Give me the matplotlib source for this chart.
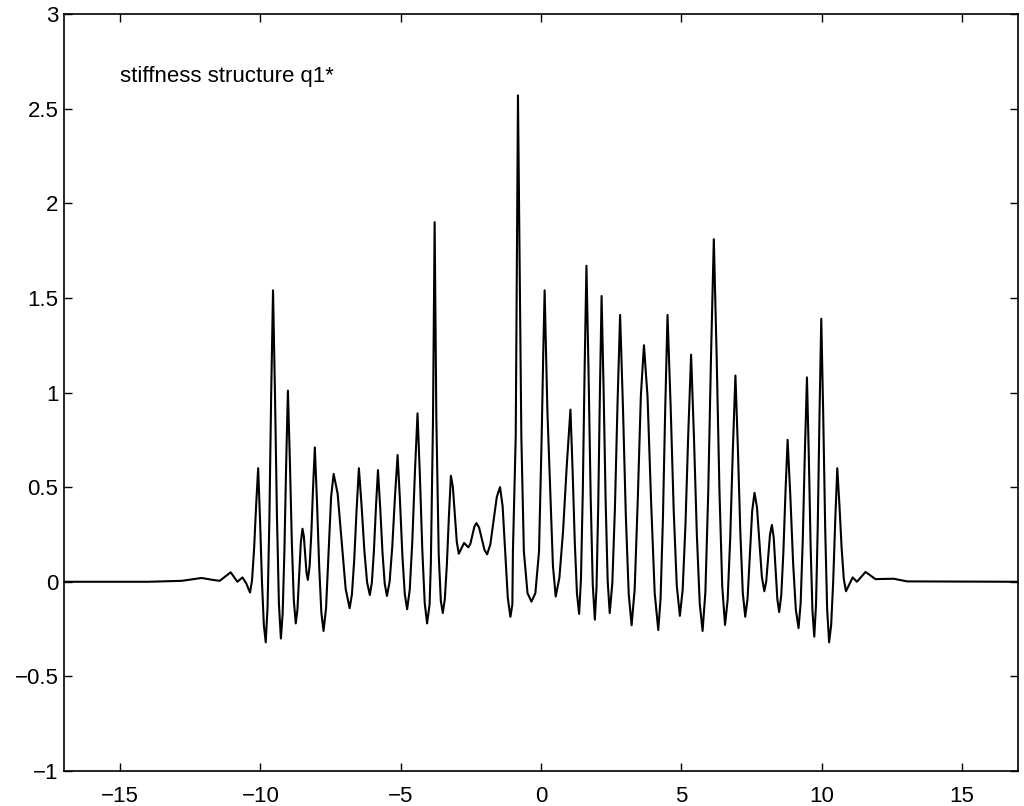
import matplotlib
matplotlib.use("Agg")
import matplotlib.pyplot as plt

# curve values (x, y), split in pieces
left_tail_x = [-17.0, -14.0, -12.8, -12.1, -11.7, -11.45, -11.06, -10.82, -10.64, -10.5]
left_tail_y = [0.0, 0.0, 0.005, 0.02, 0.01, 0.005, 0.05, 0.0, 0.023, -0.01]

left_x = [-10.37, -10.2975, -10.225, -10.1525, -10.08, -10.0125, -9.945, -9.8775,
          -9.81, -9.745, -9.68, -9.615, -9.55, -9.48, -9.41, -9.34,
          -9.27, -9.2075, -9.145, -9.0825, -9.02, -8.95, -8.88, -8.81,
          -8.74, -8.68, -8.62, -8.56, -8.50, -8.4525, -8.405, -8.3575,
          -8.31, -8.2475, -8.185, -8.1225, -8.06, -7.9825, -7.905, -7.8275,
          -7.75, -7.66, -7.57, -7.48, -7.39, -7.2475, -7.105, -6.9625,
          -6.82, -6.7375, -6.655, -6.5725, -6.49, -6.3925, -6.295, -6.1975,
          -6.10, -6.0275, -5.955, -5.8825, -5.81, -5.73, -5.65, -5.57,
          -5.49, -5.395, -5.30, -5.205, -5.11, -5.025, -4.94, -4.855,
          -4.77, -4.6775, -4.585, -4.4925, -4.40, -4.315, -4.23, -4.145,
          -4.06, -3.97, -3.925, -3.85, -3.79, -3.73, -3.645, -3.57,
          -3.50, -3.4275, -3.355, -3.2825, -3.21, -3.14, -3.07, -3.00]
left_y = [-0.057, 0.009, 0.173, 0.403, 0.60, 0.324, 0.002, -0.228,
          -0.32, -0.134, 0.331, 1.002, 1.54, 0.988, 0.344, -0.116,
          -0.30, -0.169, 0.159, 0.617, 1.01, 0.641, 0.211, -0.097,
          -0.22, -0.147, 0.03, 0.207, 0.28, 0.241, 0.145, 0.049,
          0.01, 0.08, 0.255, 0.50, 0.71, 0.419, 0.08, -0.163,
          -0.26, -0.139, 0.155, 0.449, 0.57, 0.466, 0.215, -0.036,
          -0.14, -0.066, 0.119, 0.378, 0.60, 0.399, 0.165, -0.003,
          -0.07, -0.004, 0.161, 0.392, 0.59, 0.391, 0.158, -0.009,
          -0.075, 0.0, 0.186, 0.447, 0.67, 0.426, 0.14, -0.064,
          -0.145, -0.042, 0.217, 0.58, 0.89, 0.557, 0.169, -0.109,
          -0.22, -0.12, 0.098, 0.84, 1.90, 0.87, 0.145, -0.10,
          -0.165, -0.093, 0.089, 0.343, 0.56, 0.50, 0.354, 0.21]

mid_x = [-2.93, -2.74, -2.59, -2.5175, -2.445, -2.3725, -2.30, -2.205, -2.11, -2.015,
         -1.92, -1.805, -1.69, -1.575, -1.46, -1.3675, -1.275, -1.1825,
         -1.09, -1.02, -1.0, -0.90, -0.82, -0.70, -0.61, -0.48,
         -0.34, -0.2, -0.07, 0.025, 0.08, 0.13, 0.229, 0.3275, 0.426,
         0.525, 0.656, 0.7875, 0.919, 1.05, 1.1275, 1.205, 1.2825,
         1.36, 1.425, 1.49, 1.555, 1.62, 1.695, 1.77, 1.845,
         1.92, 1.98, 2.04, 2.10, 2.16, 2.2325, 2.305, 2.3775,
         2.45, 2.5425, 2.635, 2.7275, 2.82, 2.9225, 3.025, 3.1275,
         3.23, 3.34, 3.45, 3.56, 3.67, 3.7975, 3.925, 4.0525]
mid_y = [0.148, 0.205, 0.182, 0.20, 0.246, 0.292, 0.31, 0.286, 0.228, 0.169,
         0.145, 0.197, 0.3225, 0.448, 0.50, 0.40, 0.158, -0.085,
         -0.185, -0.12, 0.16, 0.77, 2.57, 0.77, 0.16, -0.06,
         -0.105, -0.06, 0.16, 0.77, 1.2, 1.54, 0.9, 0.488, 0.084,
         -0.078, 0.021, 0.268, 0.614, 0.91, 0.586, 0.208, -0.062,
         -0.17, 0.014, 0.474, 1.118, 1.67, 1.109, 0.455, -0.013,
         -0.20, -0.029, 0.399, 0.997, 1.51, 1.008, 0.421, 0.003,
         -0.165, -0.008, 0.386, 0.938, 1.41, 0.918, 0.344, -0.066,
         -0.23, -0.038, 0.436, 0.984, 1.25, 0.979, 0.422, -0.059]

right_x = [4.18, 4.2625, 4.345, 4.4275, 4.51, 4.62, 4.73, 4.84,
           4.95, 5.05, 5.15, 5.25, 5.35, 5.4525, 5.555, 5.6575,
           5.76, 5.86, 5.96, 6.06, 6.16, 6.26, 6.36, 6.46,
           6.56, 6.6525, 6.745, 6.8375, 6.93, 7.0175, 7.105, 7.1925,
           7.28, 7.3625, 7.445, 7.5275, 7.61, 7.6975, 7.785, 7.8725,
           7.96, 8.0275, 8.095, 8.1625, 8.23, 8.295, 8.36, 8.425,
           8.49, 8.565, 8.64, 8.715, 8.79, 8.8875, 8.985, 9.0825,
           9.18, 9.255, 9.33, 9.405, 9.48, 9.545, 9.61, 9.675,
           9.74, 9.8025, 9.865, 9.9275, 9.99, 10.06, 10.13, 10.20,
           10.27, 10.3425, 10.415, 10.4875, 10.56, 10.6375, 10.715, 10.7925,
           10.87]
right_y = [-0.255, -0.089, 0.328, 0.911, 1.41, 0.933, 0.377, -0.021,
           -0.18, -0.042, 0.303, 0.786, 1.20, 0.762, 0.251, -0.114,
           -0.26, -0.053, 0.465, 1.189, 1.81, 1.199, 0.485, -0.024,
           -0.228, -0.096, 0.233, 0.695, 1.09, 0.708, 0.261, -0.058,
           -0.185, -0.089, 0.143, 0.374, 0.47, 0.394, 0.21, 0.026,
           -0.05, 0.001, 0.125, 0.249, 0.30, 0.233, 0.07, -0.093,
           -0.16, -0.069, 0.159, 0.477, 0.75, 0.452, 0.103, -0.146,
           -0.245, -0.113, 0.219, 0.683, 1.08, 0.669, 0.19, -0.153,
           -0.29, -0.122, 0.298, 0.886, 1.39, 0.877, 0.279, -0.149,
           -0.32, -0.228, 0.002, 0.324, 0.60, 0.405, 0.178, 0.015,
           -0.05]

right_tail_x = [11.11, 11.26, 11.57, 11.92, 12.57, 13.05, 17.0]
right_tail_y = [0.023, 0.0, 0.052, 0.014, 0.016, 0.002, 0.0]

x_ticks = [-15, -10, -5, 0, 5, 10, 15]
x_ticklabels = ["\u221215", "\u221210", "\u22125", "0", "5", "10", "15"]
y_ticks = [-1, -0.5, 0, 0.5, 1, 1.5, 2, 2.5, 3]
y_ticklabels = ["\u22121", "\u22120.5", "0", "0.5", "1", "1.5", "2", "2.5", "3"]

label = "stiffness structure q1*"

xs = left_tail_x + left_x + mid_x + right_x + right_tail_x
ys = left_tail_y + left_y + mid_y + right_y + right_tail_y

plt.rcParams["font.family"] = ["Liberation Sans", "DejaVu Sans"]

fig = plt.figure(figsize=(10.24, 8.06), dpi=100)
ax = fig.add_axes([0.0625, 0.0434, 0.9316, 0.9392])

ax.plot(xs, ys, color="black", linewidth=1.5, solid_joinstyle="round")

ax.set_xlim(-17, 17)
ax.set_ylim(-1, 3)
ax.set_xticks(x_ticks)
ax.set_xticklabels(x_ticklabels)
ax.set_yticks(y_ticks)
ax.set_yticklabels(y_ticklabels)
ax.tick_params(direction="in", length=6, width=1, top=True, right=True, labelsize=16)
ax.tick_params(axis="x", pad=11)
ax.tick_params(axis="y", pad=4)
for s in ax.spines.values():
    s.set_linewidth(1.2)

ax.text(-15.0, 2.64, label, fontsize=16, va="baseline")

fig.savefig("out.png", dpi=100)
plt.close(fig)
